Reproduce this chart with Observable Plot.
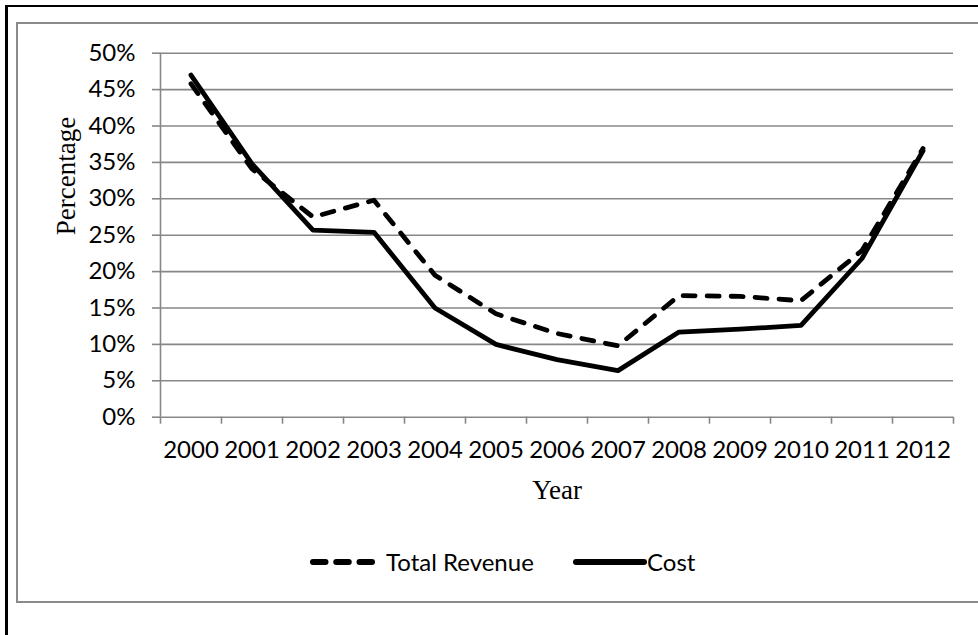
<!DOCTYPE html>
<html>
<head>
<meta charset="utf-8">
<script src="https://cdn.jsdelivr.net/npm/d3@7"></script>
<script src="https://cdn.jsdelivr.net/npm/@observablehq/plot@0.6"></script>
<style>
html,body{margin:0;padding:0;background:#fff;width:978px;height:635px;overflow:hidden;}
#wrap{position:relative;width:978px;height:635px;overflow:hidden;}
#outer{position:absolute;left:5px;top:5px;width:1100px;height:700px;border-left:3px solid #000;border-top:2px solid #000;}
#inner{position:absolute;left:16px;top:22px;width:1100px;height:577px;border:2px solid #8a8a8a;border-right:none;}
#chart{position:absolute;left:0;top:0;}
#legend{position:absolute;left:0;top:545px;width:978px;height:34px;font-family:Lato,sans-serif;font-size:24px;color:#000;}
#legend .sw{position:absolute;top:0;}
#legend .lab{position:absolute;top:0;line-height:34px;white-space:nowrap;}
</style>
</head>
<body>
<div id="wrap">
  <div id="outer"></div>
  <div id="inner"></div>
  <div id="chart"></div>
  <div id="legend"></div>
</div>
<script>
// ---- data ----
const years = [2000, 2001, 2002, 2003, 2004, 2005, 2006, 2007, 2008, 2009, 2010, 2011, 2012];
const totalRevenue = [45.8, 34.1, 27.5, 29.8, 19.5, 14.2, 11.5, 9.8, 16.7, 16.6, 16.0, 22.9, 36.9];
const cost = [47.0, 34.8, 25.7, 25.4, 15.0, 10.0, 7.9, 6.4, 11.7, 12.1, 12.6, 21.8, 36.6];
const yTicks = [0, 5, 10, 15, 20, 25, 30, 35, 40, 45, 50];
const seriesNames = ["Total Revenue", "Cost"];
const xTitle = "Year";
const yTitle = "Percentage";

const revenueRows = years.map((year, i) => ({year, value: totalRevenue[i]}));
const costRows = years.map((year, i) => ({year, value: cost[i]}));
const boundaries = [years[0] - 0.5, ...years.map(y => y + 0.5)];

const gridColor = "#878787";

const chart = Plot.plot({
  width: 978,
  height: 500,
  marginLeft: 160,
  marginRight: 25,
  marginTop: 52.7,
  marginBottom: 83.3,
  x: {type: "linear", domain: [years[0] - 0.5, years[years.length - 1] + 0.5]},
  y: {type: "linear", domain: [0, 50]},
  style: {fontFamily: "Lato, sans-serif", fontSize: "24px", color: "#000", background: "transparent", overflow: "visible"},
  marks: [
    Plot.gridY(yTicks, {stroke: gridColor, strokeOpacity: 1, strokeWidth: 1.6}),
    Plot.axisY(yTicks, {tickSize: 8, tickPadding: 17, stroke: gridColor, strokeWidth: 1.6, tickFormat: d => d + "%", label: null, fill: "#000", fontSize: 24}),
    Plot.ruleX([years[0] - 0.5], {stroke: gridColor, strokeWidth: 1.6}),
    Plot.axisX(boundaries, {tickSize: 7, tickFormat: () => "", stroke: gridColor, strokeWidth: 1.6, label: null}),
    Plot.axisX(years, {tickSize: 0, tickPadding: 24, tickFormat: d => String(d), label: null, fill: "#000", fontSize: 24}),
    Plot.line(revenueRows, {x: "year", y: "value", stroke: "#000", strokeWidth: 4.8, strokeDasharray: "12,12", strokeLinecap: "round", strokeLinejoin: "round"}),
    Plot.line(costRows, {x: "year", y: "value", stroke: "#000", strokeWidth: 4.8, strokeLinecap: "round", strokeLinejoin: "round"}),
    Plot.text([xTitle], {frameAnchor: "bottom", dy: 73.3, fontFamily: "Liberation Serif, serif", fontSize: 27, lineAnchor: "middle", fill: "#000"}),
    Plot.text([yTitle], {frameAnchor: "left", dx: -94, rotate: -90, fontFamily: "Liberation Serif, serif", fontSize: 27, lineAnchor: "middle", fill: "#000"})
  ]
});
document.getElementById("chart").appendChild(chart);

// ---- legend ----
const legend = document.getElementById("legend");
legend.innerHTML = `
  <svg class="sw" style="left:307px" width="71" height="34"><line x1="6" x2="65" y1="17" y2="17" stroke="#000" stroke-width="6" stroke-linecap="round" stroke-dasharray="12.5,10.75"/></svg>
  <span class="lab" style="left:386px">${seriesNames[0]}</span>
  <svg class="sw" style="left:570px" width="80" height="34"><line x1="6" x2="74" y1="17" y2="17" stroke="#000" stroke-width="6" stroke-linecap="round"/></svg>
  <span class="lab" style="left:647px">${seriesNames[1]}</span>
`;
</script>
</body>
</html>
